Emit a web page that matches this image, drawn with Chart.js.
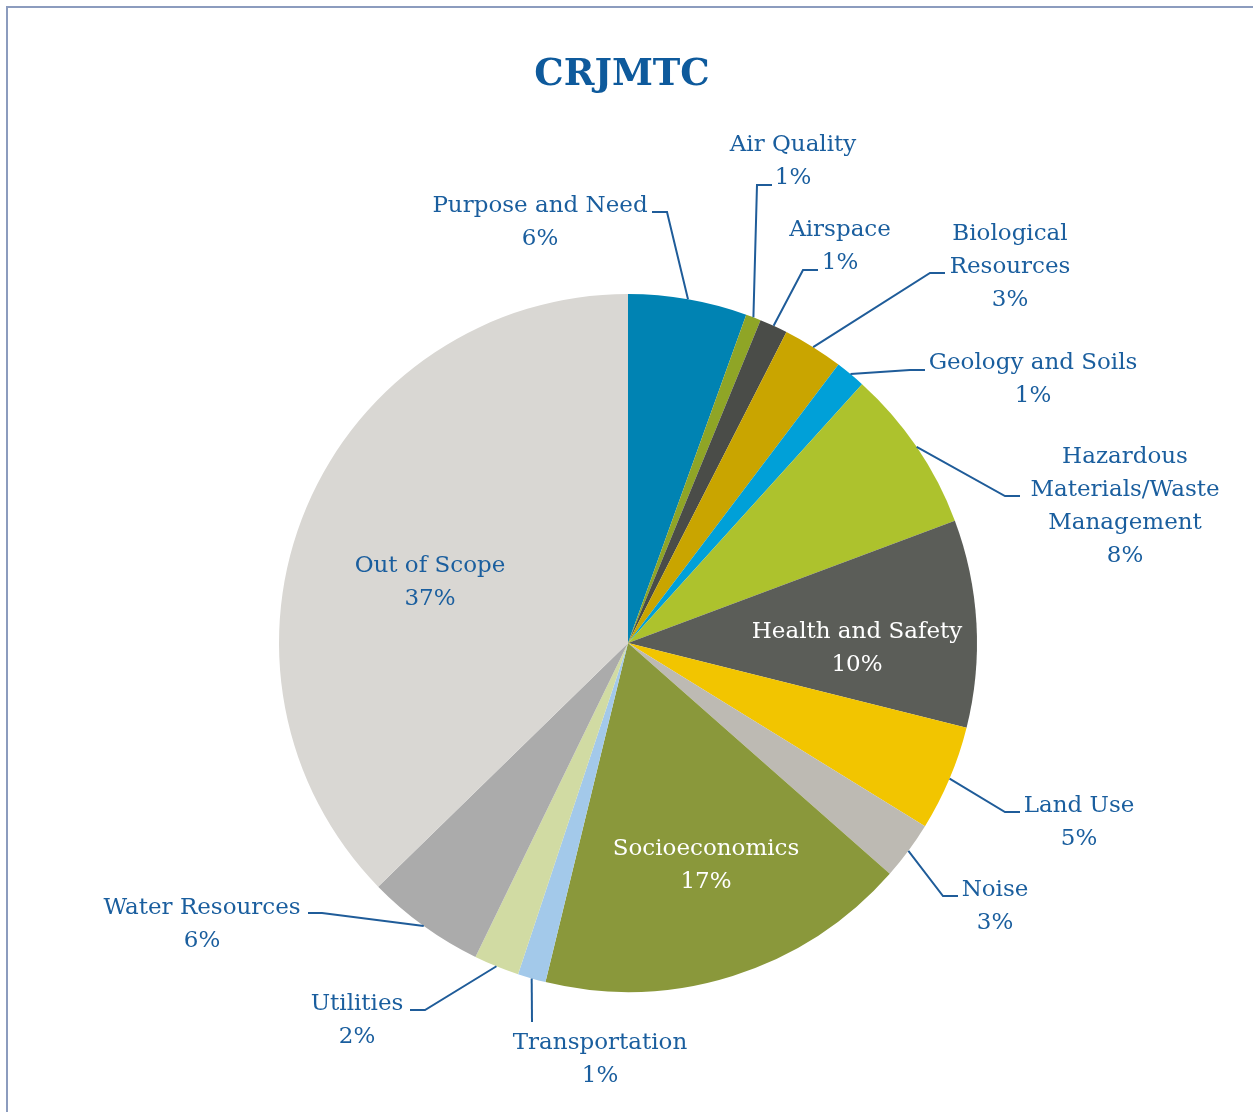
<!DOCTYPE html>
<html>
<head>
<meta charset="utf-8">
<script src="https://cdn.jsdelivr.net/npm/chart.js@4.4.1/dist/chart.umd.min.js"></script>
<style>
  html, body { margin: 0; padding: 0; background: #ffffff; }
  #wrap { position: relative; width: 1253px; height: 1112px; overflow: hidden; }
  #frame { position: absolute; left: 6px; top: 6px; width: 1300px; height: 1200px;
           border-left: 2px solid #8C9CBE; border-top: 2px solid #8C9CBE; }
  #c { position: absolute; left: 0; top: 0; }
</style>
</head>
<body>
<div id="wrap">
  <div id="frame"></div>
  <canvas id="c" width="1253" height="1112"></canvas>
</div>
<script>
const chartTitle = 'CRJMTC';
const categories = [
  'Purpose and Need', 'Air Quality', 'Airspace', 'Biological Resources',
  'Geology and Soils', 'Hazardous Materials/Waste Management', 'Health and Safety',
  'Land Use', 'Noise', 'Socioeconomics', 'Transportation', 'Utilities',
  'Water Resources', 'Out of Scope'
];
const values = [5.5, 0.7, 1.3, 2.8, 1.4, 7.6, 9.6, 4.9, 2.7, 17.3, 1.3, 2.1, 5.5, 37.3];
const percentLabels = ['6%', '1%', '1%', '3%', '1%', '8%', '10%', '5%', '3%', '17%', '1%', '2%', '6%', '37%'];
const colors = [
  '#0083B3', '#8FA526', '#4A4C48', '#C9A500', '#00A0D8', '#ADC22D', '#5B5D58',
  '#F2C500', '#BDBAB3', '#8A983B', '#A3C9EA', '#D1DBA3', '#ABABAB', '#D9D7D3'
];

const FONT = '"DejaVu Serif", "Liberation Serif", serif';
const TEXT_BLUE = '#1A5E9E';
const LINE_BLUE = '#1F5C99';
const LINE_H = 33;

// label layout: text block center (x, first line y), optional leader path (elbow, end)
const labelLayout = [
  { lines: ['Purpose and Need'], x: 540, y: 206, path: [[667, 212], [652, 212]] },
  { lines: ['Air Quality'], x: 793, y: 145, path: [[757, 185], [772, 185]] },
  { lines: ['Airspace'], x: 840, y: 230, path: [[803, 270], [818, 270]] },
  { lines: ['Biological', 'Resources'], x: 1010, y: 234, path: [[930, 273], [945, 273]] },
  { lines: ['Geology and Soils'], x: 1033, y: 363, path: [[910, 370], [925, 370]] },
  { lines: ['Hazardous', 'Materials/Waste', 'Management'], x: 1125, y: 457, path: [[1005, 496], [1020, 496]] },
  { lines: ['Health and Safety'], x: 857, y: 632, inside: true, color: '#FFFFFF' },
  { lines: ['Land Use'], x: 1079, y: 806, path: [[1005, 812], [1020, 812]] },
  { lines: ['Noise'], x: 995, y: 890, path: [[943, 896], [958, 896]] },
  { lines: ['Socioeconomics'], x: 706, y: 849, inside: true, color: '#FFFFFF' },
  { lines: ['Transportation'], x: 600, y: 1043, path: [[532, 1022]] },
  { lines: ['Utilities'], x: 357, y: 1004, path: [[425, 1010], [410, 1010]] },
  { lines: ['Water Resources'], x: 202, y: 908, path: [[322, 913], [308, 913]] },
  { lines: ['Out of Scope'], x: 430, y: 566, inside: true }
];

const labelPlugin = {
  id: 'pieLabels',
  afterDraw(chart) {
    const ctx = chart.ctx;
    const meta = chart.getDatasetMeta(0);
    ctx.save();
    // title
    ctx.fillStyle = '#0E5A9C';
    ctx.font = 'bold 37px ' + FONT;
    ctx.textAlign = 'center';
    ctx.textBaseline = 'middle';
    ctx.fillText(chartTitle, 622, 75);

    meta.data.forEach((arc, i) => {
      const lay = labelLayout[i];
      const p = arc.getProps(['x', 'y', 'startAngle', 'endAngle', 'outerRadius'], true);
      const mid = (p.startAngle + p.endAngle) / 2;
      if (lay.path) {
        const sx = p.x + Math.cos(mid) * p.outerRadius;
        const sy = p.y + Math.sin(mid) * p.outerRadius;
        ctx.strokeStyle = LINE_BLUE;
        ctx.lineWidth = 2;
        ctx.beginPath();
        ctx.moveTo(sx, sy);
        lay.path.forEach(pt => ctx.lineTo(pt[0], pt[1]));
        ctx.stroke();
      }
      ctx.fillStyle = lay.color || TEXT_BLUE;
      ctx.font = '23px ' + FONT;
      ctx.textAlign = 'center';
      ctx.textBaseline = 'middle';
      const all = lay.lines.concat([percentLabels[i]]);
      all.forEach((t, k) => ctx.fillText(t, lay.x, lay.y + k * LINE_H));
    });
    ctx.restore();
  }
};

new Chart(document.getElementById('c'), {
  type: 'pie',
  data: {
    labels: categories,
    datasets: [{
      data: values,
      backgroundColor: colors,
      borderWidth: 0,
      hoverOffset: 0
    }]
  },
  options: {
    responsive: false,
    animation: false,
    rotation: 0,
    layout: { padding: { left: 279, right: 276, top: 294, bottom: 120 } },
    plugins: {
      legend: { display: false },
      title: { display: false },
      tooltip: { enabled: false }
    }
  },
  plugins: [labelPlugin]
});
</script>
</body>
</html>
